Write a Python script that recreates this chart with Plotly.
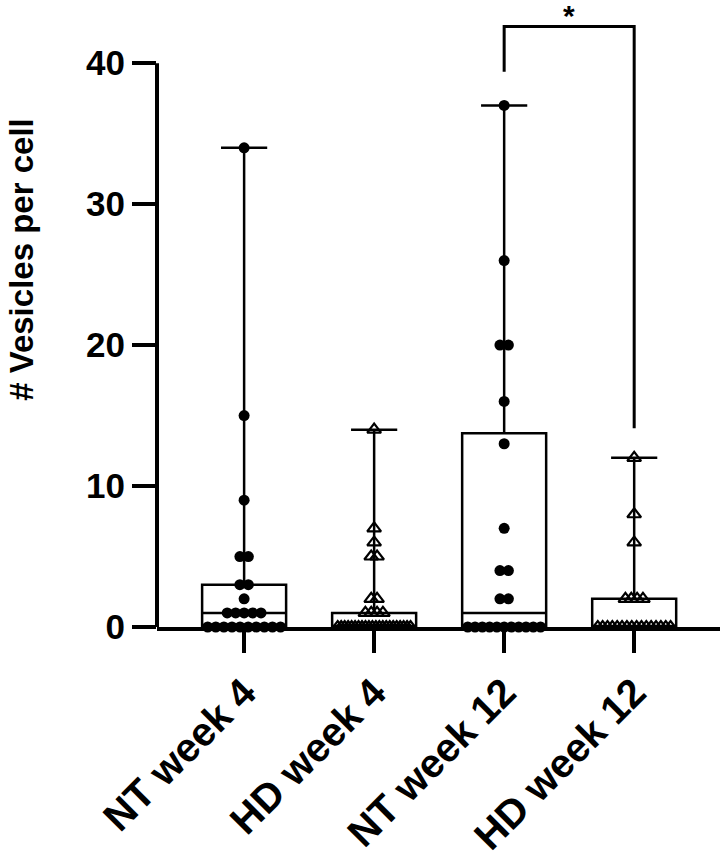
import numpy as np
import plotly.graph_objects as go

categories = ["NT week 4", "HD week 4", "NT week 12", "HD week 12"]
nt_week4 = [34, 15, 9, 5, 5, 3, 3, 2, 1, 1, 1, 1, 1] + [0] * 10
hd_week4 = [14, 7, 6, 5, 5, 2, 2, 1, 1, 1, 1] + [0] * 22
nt_week12 = [37, 26, 20, 20, 16, 13, 7, 4, 4, 2, 2] + [0] * 11
hd_week12 = [12, 8, 6, 2, 2, 2, 2] + [0] * 16
groups = [nt_week4, hd_week4, nt_week12, hd_week12]
marker_kind = ["circle", "triangle-up-open", "circle", "triangle-up-open"]
y_ticks = [0, 10, 20, 30, 40]
y_title = "# Vesicles per cell"
sig_label = "*"

FONT = "Liberation Sans, Arial, sans-serif"

fig = go.Figure()

# boxes (min to max whiskers, weibull quartiles as in GraphPad)
for i, vals in enumerate(groups):
    v = np.array(vals, dtype=float)
    q1, med, q3 = np.percentile(v, [25, 50, 75], method="weibull")
    fig.add_trace(go.Box(
        x=[i], q1=[q1], median=[med], q3=[q3],
        lowerfence=[v.min()], upperfence=[v.max()],
        width=0.646, whiskerwidth=0.55,
        line=dict(color="black", width=2.5),
        fillcolor="rgba(255,255,255,0)",
        boxpoints=False, showlegend=False, hoverinfo="skip",
    ))

# scatter points, spread horizontally per identical value
for i, vals in enumerate(groups):
    sym = marker_kind[i]
    base_dx = 0.065 if sym == "circle" else 0.045
    xs, ys = [], []
    for val in sorted(set(vals), reverse=True):
        k = vals.count(val)
        dx = base_dx if k < 2 else min(base_dx, 0.56 / (k - 1))
        for j in range(k):
            xs.append(i + (j - (k - 1) / 2) * dx)
            ys.append(val)
    if sym == "circle":
        mk = dict(symbol="circle", size=11, color="black", line=dict(width=0))
    else:
        mk = dict(symbol="triangle-up-open", size=12, color="black",
                  line=dict(width=2.2, color="black"))
    fig.add_trace(go.Scatter(x=xs, y=ys, mode="markers", marker=mk,
                             cliponaxis=False, showlegend=False,
                             hoverinfo="skip"))

# y axis line (0..40) and significance bracket
fig.add_shape(type="line", xref="paper", yref="y", x0=0, x1=0, y0=0, y1=40,
              line=dict(color="black", width=4))
fig.add_shape(type="path", xref="x", yref="y",
              path="M 2,39.4 L 2,42.6 L 3,42.6 L 3,14.1",
              line=dict(color="black", width=3))
fig.add_annotation(x=2.5, y=43.4, xref="x", yref="y", text=sig_label,
                   showarrow=False, font=dict(family=FONT, size=30, color="black", weight="bold"),
                   xanchor="center", yanchor="middle", borderpad=0)
fig.add_annotation(x=-0.2398, y=0.591, xref="paper", yref="paper", text=y_title,
                   textangle=-90, showarrow=False,
                   font=dict(family=FONT, size=33, color="black", weight="bold"),
                   xanchor="center", yanchor="middle")

fig.update_layout(
    width=724, height=863,
    margin=dict(l=157, r=4, t=4, b=236, autoexpand=False),
    paper_bgcolor="white", plot_bgcolor="white",
    boxmode="overlay",
    xaxis=dict(range=[-0.67, 3.66], tickmode="array", tickvals=[0, 1, 2, 3],
               ticktext=categories, tickangle=-45, showgrid=False, zeroline=False,
               showline=True, linecolor="black", linewidth=4, automargin=False,
               ticks="outside", ticklen=22, tickwidth=4, tickcolor="black",
               tickfont=dict(family=FONT, size=40, color="black", weight="bold")),
    yaxis=dict(range=[0, 44.2], tickmode="array", tickvals=y_ticks,
               showgrid=False, zeroline=False, showline=False, automargin=False,
               ticks="outside", ticklen=24, tickwidth=4, tickcolor="black",
               tickfont=dict(family=FONT, size=35, color="black", weight="bold")),
)

fig.write_html(
    "out.html",
    config={"displayModeBar": False},
    post_script="document.body.style.margin='0';document.body.style.overflow='hidden';",
)
